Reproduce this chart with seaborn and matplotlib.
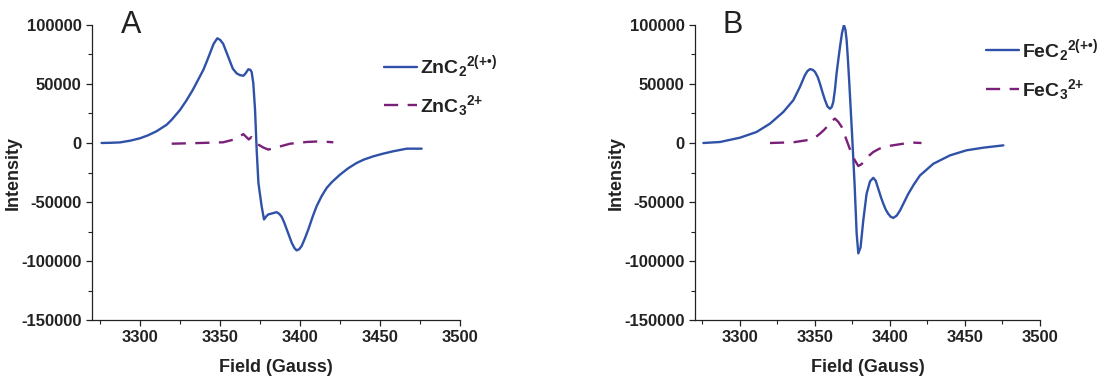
import numpy as np
import pandas as pd
import seaborn as sns
import matplotlib.pyplot as plt
from matplotlib.ticker import MultipleLocator

# Panel A - ZnC2 radical cation (solid) and ZnC3 2+ (dashed)
zn2_field = [3276, 3282, 3287.5, 3294, 3300, 3305, 3310.4, 3316.7, 3320, 3325,
             3329, 3333, 3336.5, 3339.6, 3342, 3344, 3346, 3348.3, 3350, 3352,
             3354, 3356, 3358, 3360.4, 3362.5, 3364.6, 3366, 3367.7, 3369, 3369.8,
             3370.8, 3371.9, 3372.9, 3374, 3376, 3377.5, 3379, 3380.2, 3383, 3385.4,
             3387, 3388.5, 3390, 3391.7, 3394.8, 3396.5, 3397.9, 3399.5, 3401, 3403,
             3405.2, 3408, 3410.4, 3413.5, 3416.7, 3420, 3425, 3430, 3435.4, 3440,
             3445.8, 3452, 3458.3, 3466.7, 3476]
zn2_int = [0, 200, 500, 2000, 4000, 6500, 10000, 15500, 20000, 28000,
           36000, 45000, 54000, 62000, 70000, 77000, 84000, 88700, 87500, 84000,
           77000, 70000, 63000, 59000, 57500, 57000, 59000, 62500, 62000, 60000,
           50700, 28000, -5600, -33800, -53500, -64800, -62000, -60500, -59500, -58600,
           -60000, -62500, -67000, -73200, -84500, -89000, -91000, -90000, -87300, -81000,
           -73200, -62000, -53500, -45000, -38000, -33000, -26800, -21500, -16900, -14000,
           -11300, -9000, -7000, -4800, -4800]
zn3_field = [3319.8, 3337.5, 3352, 3358.3, 3364.6, 3368, 3369.6, 3372, 3374, 3377,
             3380.2, 3385.4, 3393.75, 3404, 3412.5, 3420.8]
zn3_int = [-600, 0, 600, 2800, 7500, 3000, 5000, 1000, -1400, -3800,
           -5600, -3700, -600, 850, 1400, 600]

# Panel B - FeC2 radical cation (solid) and FeC3 2+ (dashed)
fe2_field = [3275.6, 3286.7, 3300, 3311, 3320, 3328.9, 3335.6, 3340, 3343.3, 3345,
             3346.7, 3348.5, 3350, 3351.8, 3353.3, 3355, 3356.7, 3358.3, 3360, 3361.2,
             3362.2, 3363.3, 3364.4, 3365.5, 3366.7, 3368, 3369.3, 3370.3, 3371.1, 3372,
             3372.9, 3374.7, 3376.4, 3377.8, 3378.9, 3380.4, 3382.2, 3384.4, 3386.7, 3388.9,
             3390.5, 3392.2, 3394, 3395.6, 3397.2, 3398.9, 3400.5, 3402.2, 3404.5, 3406.7,
             3409.5, 3412.2, 3416, 3420, 3428.9, 3440, 3451, 3462, 3475.6]
fe2_int = [0, 850, 4500, 9300, 16400, 26300, 36300, 47600, 57500, 61000,
           62600, 62000, 60300, 56000, 50400, 43000, 36300, 31000, 29000, 30500,
           34800, 45000, 58900, 70000, 81600, 93000, 100000, 96000, 87300, 70000,
           50400, 7900, -34600, -77000, -93500, -88400, -65700, -43100, -32500, -29500,
           -32000, -38800, -46000, -51600, -56500, -60100, -62500, -63500, -61500, -57200,
           -50000, -43100, -35000, -27500, -17600, -10500, -6200, -4000, -2000]
fe3_field = [3320, 3335.6, 3346.7, 3350, 3353.3, 3356, 3358.9, 3361, 3363.3, 3365.5,
             3367.8, 3369.5, 3371.1, 3372.8, 3374.4, 3376.5, 3378.9, 3381, 3383.3, 3386,
             3388.9, 3393, 3397.8, 3408.9, 3415.6, 3421]
fe3_int = [0, 600, 2800, 4500, 7900, 11000, 15000, 18500, 20700, 18000,
           13600, 8000, 2300, -3500, -9100, -14500, -19500, -18000, -14700, -10800,
           -7600, -4800, -2800, -600, 300, 0]

blue = '#2f52a8'
purple = '#7a2079'
ink = '#222222'

sns.set_theme(style='ticks')
plt.rcParams['font.family'] = ['Liberation Sans', 'DejaVu Sans']
plt.rcParams['font.weight'] = 'bold'
plt.rcParams['axes.unicode_minus'] = False
plt.rcParams['mathtext.fontset'] = 'custom'
plt.rcParams['mathtext.rm'] = 'Liberation Sans:bold'
plt.rcParams['mathtext.it'] = 'Liberation Sans:bold'
plt.rcParams['mathtext.bf'] = 'Liberation Sans:bold'

fig = plt.figure(figsize=(11.15, 3.78), dpi=100)
axA = fig.add_axes([0.0825, 0.1534, 0.3301, 0.7805])
axB = fig.add_axes([0.6233, 0.1534, 0.3094, 0.7805])

panels = [
    (axA, 'A', zn2_field, zn2_int, zn3_field, zn3_int,
     'ZnC$_2$$^{2(+•)}$', 'ZnC$_3$$^{2{+}}$', (0.773, 0.93)),
    (axB, 'B', fe2_field, fe2_int, fe3_field, fe3_int,
     'FeC$_2$$^{2(+•)}$', 'FeC$_3$$^{2{+}}$', (0.82, 0.985)),
]

for ax, tag, x1, y1, x2, y2, lab1, lab2, anchor in panels:
    d1 = pd.DataFrame({'field': x1, 'intensity': y1})
    d2 = pd.DataFrame({'field': x2, 'intensity': y2})
    sns.lineplot(data=d1, x='field', y='intensity', ax=ax, color=blue, lw=1.7,
                 label=lab1, sort=False)
    sns.lineplot(data=d2, x='field', y='intensity', ax=ax, color=purple, lw=1.7,
                 label=lab2, sort=False)
    ax.lines[1].set_dashes((6, 4))

    ax.set_xlim(3270, 3500)
    ax.set_ylim(-150000, 100000)
    ax.xaxis.set_major_locator(MultipleLocator(50))
    ax.xaxis.set_minor_locator(MultipleLocator(25))
    ax.yaxis.set_major_locator(MultipleLocator(50000))
    ax.yaxis.set_minor_locator(MultipleLocator(25000))
    ax.tick_params(which='major', direction='out', length=4, width=0.9,
                   labelsize=12, colors=ink)
    ax.tick_params(which='minor', direction='out', length=3, width=0.8, colors=ink)
    sns.despine(ax=ax)
    for s in ['left', 'bottom']:
        ax.spines[s].set_color(ink)
        ax.spines[s].set_linewidth(0.9)

    ax.set_xlabel('Field (Gauss)', fontsize=13, fontweight='bold', labelpad=10, color=ink)
    ax.set_ylabel('Intensity', fontsize=13, fontweight='bold', color=ink)
    ax.yaxis.set_label_coords(-70 / (ax.get_position().width * 1115), 0.5)
    ax.text(0.08, 1.0, tag, transform=ax.transAxes, fontsize=22, fontweight='normal',
            va='center', ha='left', color=ink)

    leg = ax.legend(loc='upper left', bbox_to_anchor=anchor, frameon=False,
                    fontsize=14, handlelength=1.7, handletextpad=0.15,
                    labelspacing=0.65, borderaxespad=0)
    for t in leg.get_texts():
        t.set_color(ink)

fig.savefig('out.png', dpi=100)
